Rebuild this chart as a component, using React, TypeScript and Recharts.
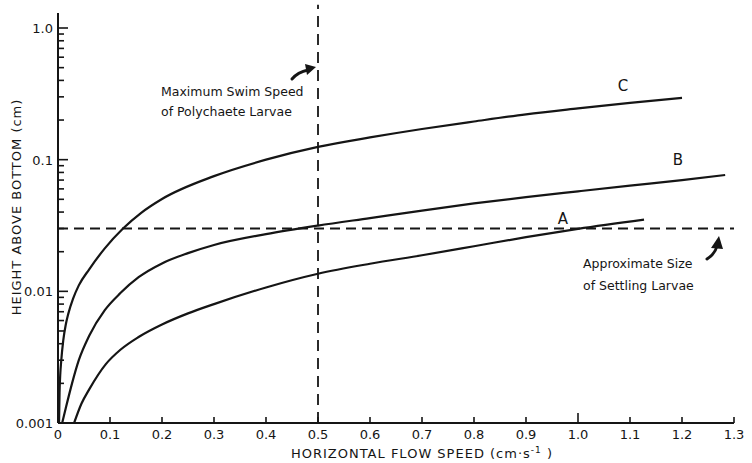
import React from 'react';
import { LineChart, Line, XAxis, YAxis, ReferenceLine } from 'recharts';

// curve A
const speedA = [0.031, 0.045, 0.06, 0.092, 0.12, 0.155, 0.2, 0.25, 0.3, 0.4, 0.5, 0.6, 0.7, 0.8, 0.9, 1.0, 1.127];
const heightA = [0.001, 0.0014, 0.0018, 0.0028, 0.0036, 0.0045, 0.0056, 0.0068, 0.008, 0.0107, 0.0136, 0.0162, 0.0188, 0.022, 0.0258, 0.0298, 0.035];

// curve B
const speedB = [0.008, 0.015, 0.027, 0.04, 0.06, 0.09, 0.12, 0.155, 0.2, 0.25, 0.3, 0.4, 0.5, 0.6, 0.7, 0.8, 0.9, 1.0, 1.1, 1.2, 1.283];
const heightB = [0.001, 0.0013, 0.002, 0.003, 0.0046, 0.0072, 0.0097, 0.0128, 0.0163, 0.0195, 0.0225, 0.0272, 0.0316, 0.036, 0.041, 0.0465, 0.052, 0.0575, 0.0635, 0.07, 0.0765];

// curve C
const speedC = [0.002, 0.003, 0.0045, 0.006, 0.01, 0.015, 0.02, 0.029, 0.04, 0.06, 0.09, 0.125, 0.16, 0.2, 0.3, 0.4, 0.5, 0.6, 0.7, 0.8, 0.9, 1.0, 1.1, 1.2];
const heightC = [0.001, 0.0017, 0.0024, 0.0029, 0.0042, 0.0056, 0.0068, 0.0088, 0.0111, 0.0147, 0.0212, 0.03, 0.0395, 0.0503, 0.075, 0.1, 0.125, 0.1475, 0.171, 0.195, 0.221, 0.245, 0.27, 0.295];

const X_TICKS = [0, 0.1, 0.2, 0.3, 0.4, 0.5, 0.6, 0.7, 0.8, 0.9, 1.0, 1.1, 1.2, 1.3];
const X_LABELS = ['0', '0.1', '0.2', '0.3', '0.4', '0.5', '0.6', '0.7', '0.8', '0.9', '1.0', '1.1', '1.2', '1.3'];
const Y_MAJOR = [0.001, 0.01, 0.1, 1];
const Y_LABELS = ['0.001', '0.01', '0.1', '1.0'];

const SWIM_SPEED = 0.5;
const LARVAE_SIZE = 0.03;

const toPoints = (s: number[], h: number[]) => s.map((v, i) => ({ s: v, h: h[i] }));

// major decades plus the 2..9 minor marks in between
const yTicks: number[] = [];
Y_MAJOR.forEach((m, i) => {
  yTicks.push(m);
  if (i < Y_MAJOR.length - 1) for (let k = 2; k <= 9; k++) yTicks.push(+(m * k).toPrecision(3));
});

const INK = '#151515';
const FONT = '"DejaVu Sans", sans-serif';

const YTick = (props: any) => {
  const { x, y, payload } = props;
  const idx = Y_MAJOR.findIndex(m => Math.abs(m - payload.value) < 1e-9);
  const major = idx >= 0;
  return (
    <g>
      <line x1={x} x2={x + (major ? 10 : 6)} y1={y} y2={y} stroke={INK} strokeWidth={1.6} />
      {major && (
        <text x={x - 5} y={y} dy={5} textAnchor="end" fontSize={13} fontFamily={FONT} fill={INK}>
          {Y_LABELS[idx]}
        </text>
      )}
    </g>
  );
};

const XTick = (props: any) => {
  const { x, y, payload } = props;
  const idx = X_TICKS.findIndex(t => Math.abs(t - payload.value) < 1e-9);
  const len = payload.value === 1 ? 10 : 6;
  return (
    <g>
      <line x1={x} x2={x} y1={y} y2={y - len} stroke={INK} strokeWidth={1.6} />
      <text x={x} y={y} dy={16} textAnchor="middle" fontSize={13} fontFamily={FONT} fill={INK}>
        {X_LABELS[idx]}
      </text>
    </g>
  );
};

const Arrow = ({ d, head }: { d: string; head: string }) => (
  <g>
    <path d={d} fill="none" stroke={INK} strokeWidth={3} strokeLinecap="round" />
    <polygon points={head} fill={INK} />
  </g>
);

export default function App() {
  return (
    <div style={{ position: 'relative', width: 752, height: 463, background: '#fff' }}>
      <style>{'body{margin:0}'}</style>
      <LineChart width={752} height={463} margin={{ top: 13, right: 18, left: 0, bottom: 0 }}>
        <XAxis
          dataKey="s"
          type="number"
          domain={[0, 1.3]}
          ticks={X_TICKS}
          interval={0}
          tick={<XTick />}
          tickLine={false}
          tickSize={0}
          tickMargin={0}
          height={40}
          axisLine={{ stroke: INK, strokeWidth: 2 }}
          allowDataOverflow
        />
        <YAxis
          dataKey="h"
          scale="log"
          domain={[0.001, 1.3]}
          ticks={yTicks}
          interval={0}
          tick={<YTick />}
          tickLine={false}
          tickSize={0}
          tickMargin={0}
          width={58}
          axisLine={{ stroke: INK, strokeWidth: 2 }}
          allowDataOverflow
        />
        <ReferenceLine y={LARVAE_SIZE} stroke={INK} strokeWidth={1.8} strokeDasharray="10 6" />
        <ReferenceLine
          segment={[{ x: SWIM_SPEED, y: 0.001 }, { x: SWIM_SPEED, y: 1.5 }]}
          ifOverflow="visible"
          stroke={INK}
          strokeWidth={1.8}
          strokeDasharray="11 7"
        />
        <Line data={toPoints(speedA, heightA)} dataKey="h" type="monotone" stroke={INK} strokeWidth={2.2} dot={false} isAnimationActive={false} />
        <Line data={toPoints(speedB, heightB)} dataKey="h" type="monotone" stroke={INK} strokeWidth={2.2} dot={false} isAnimationActive={false} />
        <Line data={toPoints(speedC, heightC)} dataKey="h" type="monotone" stroke={INK} strokeWidth={2.2} dot={false} isAnimationActive={false} />
      </LineChart>

      <svg width={752} height={463} style={{ position: 'absolute', left: 0, top: 0, pointerEvents: 'none' }} fontFamily={FONT} fill={INK}>
        <text x={16} y={207} transform="rotate(-90 16 207)" textAnchor="middle" dominantBaseline="central" fontSize={13} letterSpacing={1}>
          HEIGHT ABOVE BOTTOM (cm)
        </text>
        <text x={422} y={458} textAnchor="middle" fontSize={13} letterSpacing={1}>
          HORIZONTAL FLOW SPEED (cm·s<tspan dy={-5} fontSize={9}>-1</tspan><tspan dy={5}> )</tspan>
        </text>

        <text x={623} y={91} textAnchor="middle" fontSize={15}>C</text>
        <text x={678} y={165} textAnchor="middle" fontSize={15}>B</text>
        <text x={563} y={224} textAnchor="middle" fontSize={15}>A</text>

        <text x={161} y={96} fontSize={12.5}>Maximum Swim Speed</text>
        <text x={161} y={116} fontSize={12.5}>of Polychaete Larvae</text>
        <Arrow d="M 292 79 Q 298 72 308 70" head="305,64 316,67 307,75" />

        <text x={583} y={268} fontSize={12.5}>Approximate Size</text>
        <text x={583} y={290} fontSize={12.5}>of Settling Larvae</text>
        <Arrow d="M 707 259 Q 715 254 717 246" head="711,248 719,236 723,249" />
      </svg>
    </div>
  );
}
